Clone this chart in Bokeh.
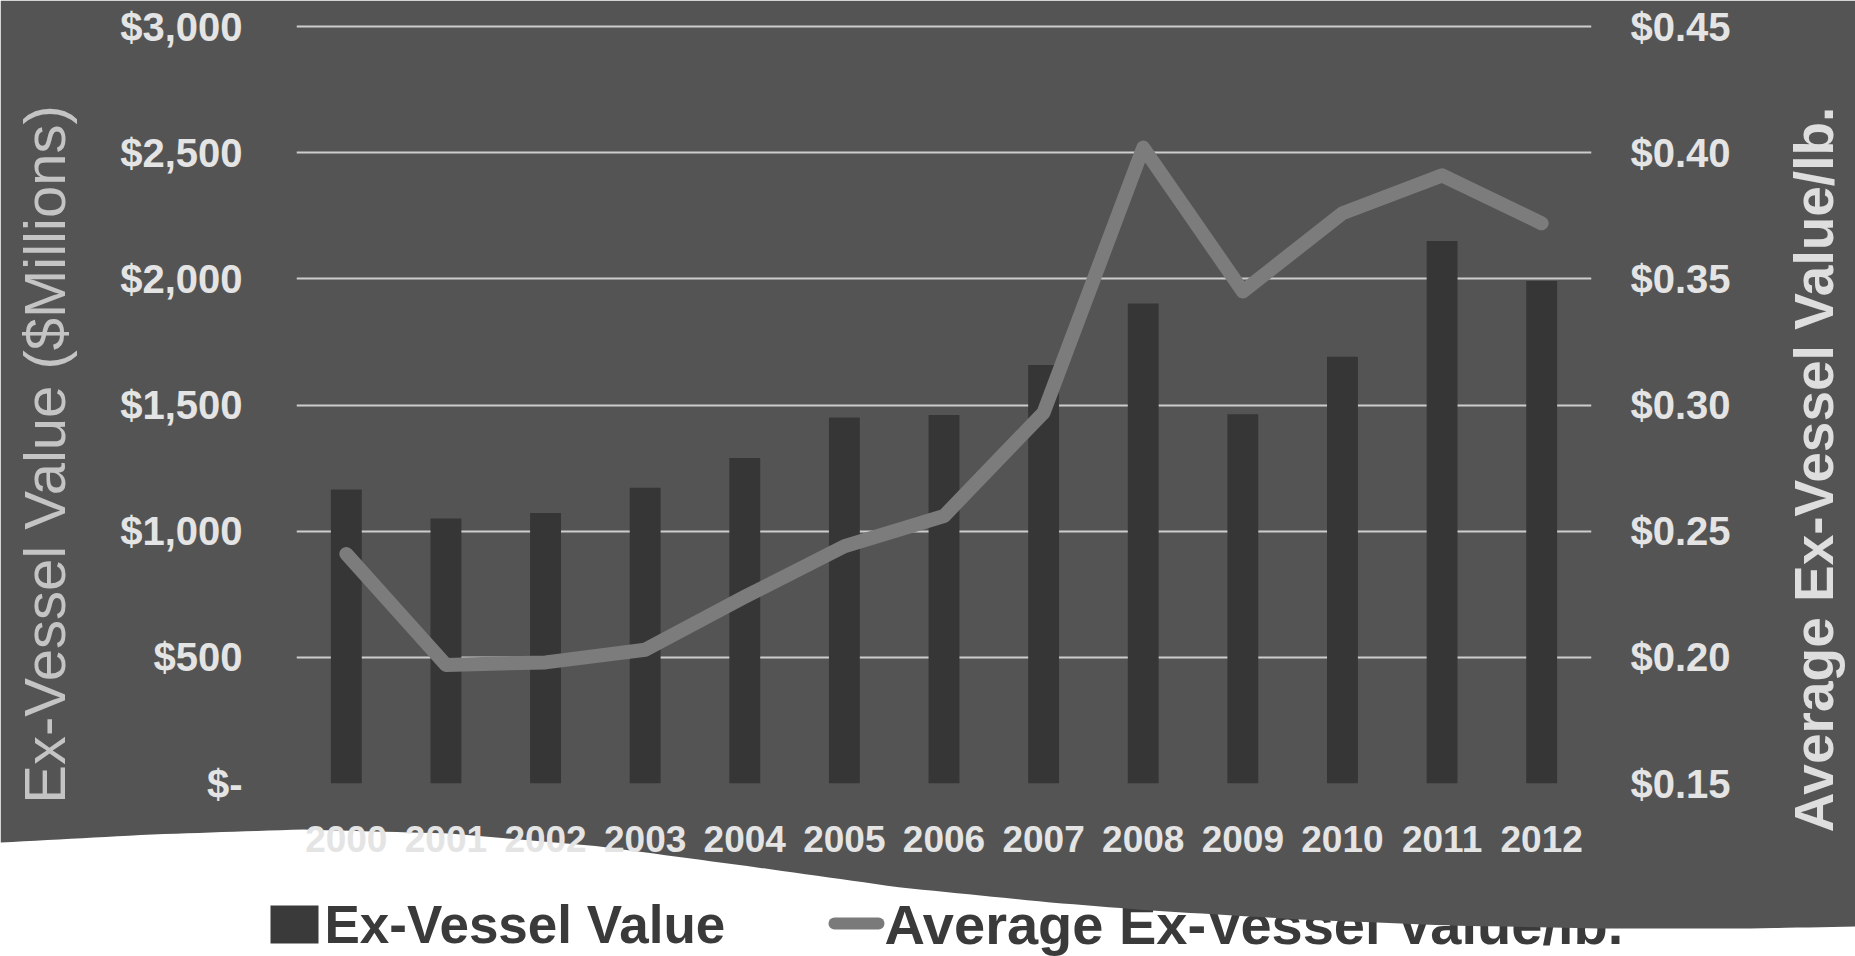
import numpy as np
from math import pi
from bokeh.plotting import figure
from bokeh.layouts import column
from bokeh.models import Range1d, LinearAxis, FixedTicker, NumeralTickFormatter
from bokeh.core.properties import value
from bokeh.embed import file_html
from bokeh.resources import INLINE

# ---------------- data ----------------
years = ["2000", "2001", "2002", "2003", "2004", "2005", "2006",
         "2007", "2008", "2009", "2010", "2011", "2012"]
ex_vessel_value = [1165, 1050, 1072, 1172, 1290, 1450, 1460, 1659, 1902, 1463, 1691, 2150, 1991]
avg_value_per_lb = [0.241, 0.197, 0.198, 0.203, 0.224, 0.244, 0.256, 0.297, 0.402, 0.345, 0.376, 0.391, 0.372]
left_ticks = [0, 500, 1000, 1500, 2000, 2500, 3000]
right_ticks = [0.15, 0.20, 0.25, 0.30, 0.35, 0.40, 0.45]
left_title = "Ex-Vessel Value ($Millions)"
right_title = "Average Ex-Vessel Value/lb."
bar_label = "Ex-Vessel Value"
line_label = "Average Ex-Vessel Value/lb."

# ---------------- style ----------------
W, H = 1855, 956
FL, FR, FT, FB = 296, 1591, 20, 783      # frame edges on the page
BG = "#545454"
BAR = "#363636"
LINE = "#7c7c7c"
GRID = "#cdcdcd"
TICK = "#e4e4e4"
INK = "#3a3a3a"
FONT = "Liberation Sans"

# ======== back layer: white page, legend, gray curved panel, axis titles ========
bg = figure(width=W, height=H, x_range=Range1d(0, W), y_range=Range1d(H, 0),
            output_backend="svg", toolbar_location=None,
            x_axis_type=None, y_axis_type=None,
            min_border_left=0, min_border_right=0, min_border_top=0, min_border_bottom=0,
            background_fill_color="white", border_fill_color="white",
            outline_line_color=None)
bg.frame_align = False

# legend (sits under the curve of the panel)
bg.quad(left=[270], right=[318], top=[905], bottom=[943], fill_color=INK, line_color=None)
bg.text(x=[324], y=[924], text=[bar_label], text_font=value(FONT), text_font_style="bold",
        text_font_size="53px", text_color=INK, text_baseline="alphabetic")
bg.line(x=[834, 878], y=[923, 923], line_width=12, line_cap="round", line_color="#7a7a7a")
bg.text(x=[884], y=[924], text=[line_label], text_font=value(FONT), text_font_style="bold",
        text_font_size="56px", text_color=INK, text_baseline="alphabetic")

# gray panel with a wavy bottom edge
cx = [0, 150, 300, 450, 600, 750, 900, 1050, 1150, 1300, 1450, 1600, 1750, 1855]
cy = [842, 834, 829, 833, 846, 866, 887, 902, 910, 919, 925, 928, 928, 926]
bx = np.linspace(0, W, 160)
by = np.interp(bx, cx, cy)
bg.patch(x=[0, W] + list(bx[::-1]), y=[0, 0] + list(by[::-1]),
         fill_color=BG, line_color=None)

# axis titles
bg.text(x=[44], y=[454], text=[left_title], angle=pi / 2, text_align="center",
        text_baseline="middle", text_font=value(FONT), text_font_style="normal",
        text_font_size="58px", text_color="#c4c4c4")
bg.text(x=[1813], y=[469], text=[right_title], angle=pi / 2, text_align="center",
        text_baseline="middle", text_font=value(FONT), text_font_style="bold",
        text_font_size="55px", text_color="#dedede")

# ======== front layer: the chart itself (transparent) ========
pad = (FB - FT) / (FB - 26) - 1.0
p = figure(width=W, height=H, x_range=years,
           y_range=Range1d(0, 3000 * (1 + pad)),
           output_backend="svg", toolbar_location=None,
           min_border_left=FL, min_border_right=W - FR,
           min_border_top=FT, min_border_bottom=H - FB,
           background_fill_color=None, border_fill_color=None,
           outline_line_color=None)
p.frame_align = False
p.extra_y_ranges = {"price": Range1d(0.15, 0.15 + 0.30 * (1 + pad))}

p.vbar(x=years, top=ex_vessel_value, width=0.31, fill_color=BAR, line_color=None)
p.line(x=years, y=avg_value_per_lb, y_range_name="price", line_color=LINE,
       line_width=14, line_join="round", line_cap="round")

p.ygrid.ticker = FixedTicker(ticks=left_ticks)
p.ygrid.grid_line_color = GRID
p.ygrid.grid_line_width = 2
p.xgrid.grid_line_color = None

ya = p.yaxis[0]
ya.ticker = FixedTicker(ticks=left_ticks)
ya.formatter = NumeralTickFormatter(format="$0,0")
ya.major_label_overrides = {0: "$-"}

ra = LinearAxis(y_range_name="price", ticker=FixedTicker(ticks=right_ticks),
                formatter=NumeralTickFormatter(format="$0.00"))
p.add_layout(ra, "right")

for ax in (ya, ra):
    ax.major_label_text_font = FONT
    ax.major_label_text_font_style = "bold"
    ax.major_label_text_font_size = "40px"
    ax.major_label_text_color = TICK
ya.major_label_standoff = 48
ra.major_label_standoff = 33

xa = p.xaxis[0]
xa.major_label_text_font = FONT
xa.major_label_text_font_style = "bold"
xa.major_label_text_font_size = "37px"
xa.major_label_text_color = TICK
xa.major_label_standoff = 36

for ax in (ya, ra, xa):
    ax.axis_line_color = None
    ax.major_tick_line_color = None
    ax.minor_tick_line_color = None

p.margin = (-H, 0, 0, 0)   # lay the transparent chart over the page layer

layout = column(bg, p)
open("out.html", "w").write(file_html(layout, INLINE))
